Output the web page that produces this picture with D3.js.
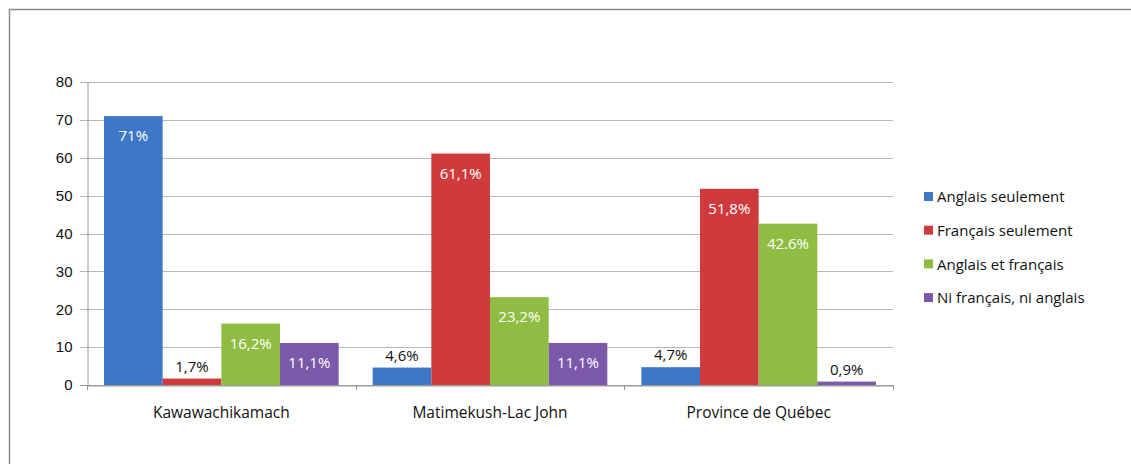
<!DOCTYPE html>
<html>
<head>
<meta charset="utf-8">
<script src="https://cdn.jsdelivr.net/npm/d3@7"></script>
<style>
  body { margin: 0; background: #fff; }
  svg { display: block; font-family: "Open Sans", "Liberation Sans", sans-serif; }
</style>
</head>
<body>
<svg id="chart" width="1131" height="464"></svg>
<script>
const categories = ['Kawawachikamach', 'Matimekush-Lac John', 'Province de Québec'];
const seriesNames = ['Anglais seulement', 'Français seulement', 'Anglais et français', 'Ni français, ni anglais'];
const seriesColors = ['#3d78c6', '#cf3b3d', '#8fbd43', '#7b58a9'];
const anglaisSeul = [71, 4.6, 4.7];
const francaisSeul = [1.7, 61.1, 51.8];
const anglaisFrancais = [16.2, 23.2, 42.6];
const niNi = [11.1, 11.1, 0.9];
const valueLabels = [
  ['71%', '4,6%', '4,7%'],
  ['1,7%', '61,1%', '51,8%'],
  ['16,2%', '23,2%', '42.6%'],
  ['11,1%', '11,1%', '0,9%']
];
const yTicks = [0, 10, 20, 30, 40, 50, 60, 70, 80];

const seriesValues = [anglaisSeul, francaisSeul, anglaisFrancais, niNi];

const svg = d3.select('#chart');

// outer frame
svg.append('path')
  .attr('d', 'M9.5,464 V9.5 H1131')
  .attr('fill', 'none')
  .attr('stroke', '#8a8a8a')
  .attr('stroke-width', 1.5);

const plotLeft = 87, plotRight = 893, plotTop = 82, plotBottom = 385;

const x0 = d3.scaleBand().domain(categories).range([plotLeft, plotRight]).paddingInner(0).paddingOuter(0);
const x1 = d3.scaleBand().domain(d3.range(4)).range([0, x0.bandwidth()]).paddingInner(0).paddingOuter(0.29);
const y = d3.scaleLinear().domain([0, 80]).range([plotBottom, plotTop]);

// gridlines
svg.append('g')
  .selectAll('line')
  .data(yTicks)
  .join('line')
  .attr('x1', plotLeft - 7)
  .attr('x2', plotRight)
  .attr('y1', d => Math.round(y(d)) + 0.5)
  .attr('y2', d => Math.round(y(d)) + 0.5)
  .attr('stroke', d => d === 0 ? '#9a9a9a' : '#b8b8b8')
  .attr('stroke-width', 1);

// y axis
const yAxis = svg.append('g')
  .attr('transform', `translate(${plotLeft + 0.5},0)`)
  .call(d3.axisLeft(y).tickValues(yTicks).tickSize(0).tickPadding(15));
yAxis.select('.domain').attr('stroke', '#9a9a9a');
yAxis.selectAll('text').attr('font-size', 15).attr('fill', '#111');

// x axis
const xAxis = svg.append('g')
  .attr('transform', `translate(0,${Math.round(plotBottom) + 0.5})`)
  .call(d3.axisBottom(x0).tickSize(0).tickPadding(21));
xAxis.select('.domain').attr('stroke', '#9a9a9a');
xAxis.selectAll('text').attr('fill', '#111')
  .attr('font-family', '"Liberation Sans Narrow", "Open Sans", sans-serif')
  .attr('font-size', 15.5);
svg.append('g')
  .selectAll('line')
  .data([plotLeft, plotLeft + x0.bandwidth(), plotLeft + 2 * x0.bandwidth(), plotRight])
  .join('line')
  .attr('x1', d => Math.round(d) + 0.5)
  .attr('x2', d => Math.round(d) + 0.5)
  .attr('y1', plotBottom)
  .attr('y2', plotBottom + 5)
  .attr('stroke', '#9a9a9a');

// bars
const groups = svg.append('g')
  .selectAll('g')
  .data(seriesValues)
  .join('g')
  .attr('fill', (d, i) => seriesColors[i]);

groups.each(function (vals, si) {
  const g = d3.select(this);
  vals.forEach((v, ci) => {
    const bx = x0(categories[ci]) + x1(si);
    const by = y(v);
    g.append('rect')
      .attr('x', bx)
      .attr('y', by)
      .attr('width', x1.bandwidth())
      .attr('height', Math.max(2, y(0) - by));
    const inside = v > 10;
    g.append('text')
      .attr('x', bx + x1.bandwidth() / 2)
      .attr('y', inside ? by + 25 : by - 7)
      .attr('text-anchor', 'middle')
      .attr('font-size', 15)
      .attr('fill', inside ? '#fff' : '#111')
      .text(valueLabels[si][ci]);
  });
});

// legend
const legend = svg.append('g')
  .attr('transform', 'translate(924,197)')
  .selectAll('g')
  .data(seriesNames)
  .join('g')
  .attr('transform', (d, i) => `translate(0,${i * 33.7})`);
legend.append('rect')
  .attr('x', 0).attr('y', -5)
  .attr('width', 9).attr('height', 9)
  .attr('fill', (d, i) => seriesColors[i]);
legend.append('text')
  .attr('x', 13)
  .attr('y', 0)
  .attr('dy', '0.35em')
  .attr('font-size', 15)
  .attr('fill', '#111')
  .text(d => d);
</script>
</body>
</html>
